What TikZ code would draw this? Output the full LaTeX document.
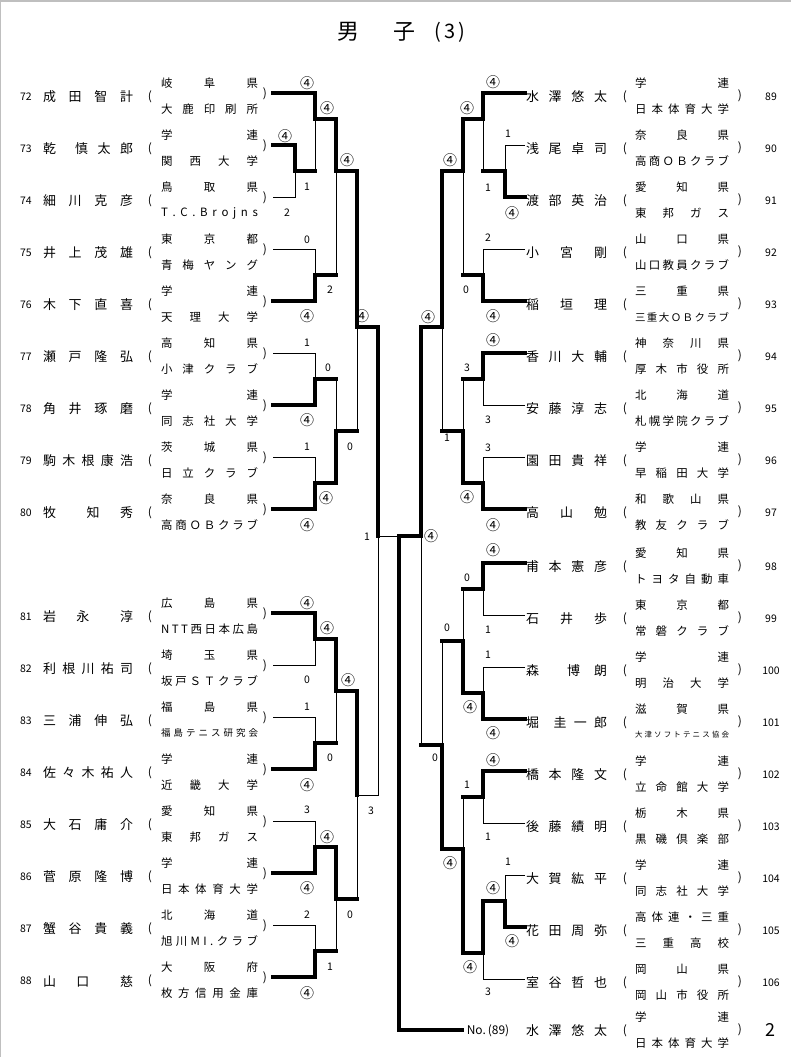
\documentclass[tikz,border=0pt]{standalone}
\usepackage{fontspec}
\setmainfont{Noto Sans CJK JP}
\makeatletter
\def\spr#1{\spr@a#1\@nil}
\def\spr@a#1#2\@nil{\ifx*#1\else#1\fi\if\relax\detokenize{#2}\relax\else\hfill\spr@a#2\@nil\fi}
\makeatother
\newcommand\four{{\fontsize{14}{14}\selectfont ④}}
\tikzset{
  win/.style={line width=3.6bp, line cap=rect, line join=miter},
  lose/.style={line width=1bp},
  numst/.style={inner sep=0, font=\fontsize{10.5}{10.5}\selectfont},
  namest/.style={inner sep=0, font=\fontsize{13}{13}\selectfont},
  clubst/.style={inner sep=0, font=\fontsize{11.5}{11.5}\selectfont},
  parst/.style={inner sep=0, font=\fontsize{12}{12}\selectfont},
  sc/.style={inner sep=0, font=\fontsize{10.5}{10.5}\selectfont},
}
% left row: [lower club size] number, y, name, pref, club
\newcommand\Lrow[6][11.5]{%
  \node[numst] (ln#2) at (26,#3+4) {#2};
  \node[namest] (lname#2) at (88,#3+4) {\makebox[90bp][s]{\spr{#4}}};
  \node[parst] (lpa#2) at (150,#3+4) {(};
  \node[clubst] (lpr#2) at (209.5,#3-10) {\makebox[97bp][s]{\spr{#5}}};
  \node[clubst, font=\fontsize{#1}{#1}\selectfont] (lcl#2) at (209.5,#3+16) {\makebox[97bp][s]{\spr{#6}}};
  \node[parst] (lpb#2) at (265,#3+1) {)};
  \coordinate (L#2) at (273,#3);
}
\newcommand\Rrow[6][11.5]{%
  \node[namest] (rname#2) at (566.5,#3+4) {\makebox[81bp][s]{\spr{#4}}};
  \node[parst] (rpa#2) at (625,#3+4) {(};
  \node[clubst] (rpr#2) at (682,#3-10) {\makebox[94bp][s]{\spr{#5}}};
  \node[clubst, font=\fontsize{#1}{#1}\selectfont] (rcl#2) at (682,#3+16) {\makebox[94bp][s]{\spr{#6}}};
  \node[parst] (rpb#2) at (740,#3+3) {)};
  \node[numst] (rn#2) at (771,#3+4) {#2};
  \coordinate (R#2) at (525,#3);
}
\begin{document}
\begin{tikzpicture}[x=1bp,y=-1bp]
\useasboundingbox (0,0) rectangle (791,1057);
\fill[white] (0,0) rectangle (791,1057);
\draw[black!25, line width=1.5bp] (0.75,1057) -- (0.75,0.75) -- (791,0.75);
% title
\node[inner sep=0, font=\fontsize{22}{22}\selectfont] (t1) at (348,32) {男};
\node[inner sep=0, font=\fontsize{22}{22}\selectfont] (t2) at (404,32) {子};
\node[inner sep=0, font=\fontsize{20}{20}\selectfont] (t3) at (450,32) {(\,3\,)};
% left rows
\Lrow{72}{93}{成田智計}{岐阜県}{大鹿印刷所}
\Lrow{73}{145}{乾*慎太郎}{学連}{関西大学}
\Lrow{74}{197}{細川克彦}{鳥取県}{T.C.Brojns}
\Lrow{75}{249}{井上茂雄}{東京都}{青梅ヤング}
\Lrow{76}{301}{木下直喜}{学連}{天理大学}
\Lrow{77}{353}{瀬戸隆弘}{高知県}{小津クラブ}
\Lrow{78}{405}{角井琢磨}{学連}{同志社大学}
\Lrow{79}{457}{駒木根康浩}{茨城県}{日立クラブ}
\Lrow{80}{509}{牧**知*秀}{奈良県}{高商ＯＢクラブ}
\Lrow{81}{613}{岩*永**淳}{広島県}{NTT西日本広島}
\Lrow{82}{665}{利根川祐司}{埼玉県}{坂戸ＳＴクラブ}
\Lrow[9.5]{83}{717}{三浦伸弘}{福島県}{福島テニス研究会}
\Lrow{84}{769}{佐々木祐人}{学連}{近畿大学}
\Lrow{85}{821}{大石庸介}{愛知県}{東邦ガス}
\Lrow{86}{873}{菅原隆博}{学連}{日本体育大学}
\Lrow{87}{925}{蟹谷貴義}{北海道}{旭川MI.クラブ}
\Lrow{88}{977}{山*口**慈}{大阪府}{枚方信用金庫}
% right rows
\Rrow{89}{93}{水澤悠太}{学連}{日本体育大学}
\Rrow{90}{145}{浅尾卓司}{奈良県}{高商ＯＢクラブ}
\Rrow{91}{197}{渡部英治}{愛知県}{東邦ガス}
\Rrow{92}{249}{小*宮*剛}{山口県}{山口教員クラブ}
\Rrow[10.5]{93}{301}{稲*垣*理}{三重県}{三重大ＯＢクラブ}
\Rrow{94}{353}{香川大輔}{神奈川県}{厚木市役所}
\Rrow{95}{405}{安藤淳志}{北海道}{札幌学院クラブ}
\Rrow{96}{457}{園田貴祥}{学連}{早稲田大学}
\Rrow{97}{509}{高*山*勉}{和歌山県}{教友クラブ}
\Rrow{98}{563}{甫本憲彦}{愛知県}{トヨタ自動車}
\Rrow{99}{615}{石*井*歩}{東京都}{常磐クラブ}
\Rrow{100}{667}{森*博朗}{学連}{明治大学}
\Rrow[7.5]{101}{719}{堀*圭一郎}{滋賀県}{大津ソフトテニス協会}
\Rrow{102}{771}{橋本隆文}{学連}{立命館大学}
\Rrow{103}{823}{後藤績明}{栃木県}{黒磯倶楽部}
\Rrow{104}{875}{大賀紘平}{学連}{同志社大学}
\Rrow{105}{927}{花田周弥}{高体連・三重}{三重高校}
\Rrow{106}{979}{室谷哲也}{岡山県}{岡山市役所}
% final row
\node[namest, font=\fontsize{12}{12}\selectfont] (fno) at (488,1031) {No.\,(89)};
\coordinate (fin) at (462,1030);
\node[namest] (fname) at (566.5,1031) {\makebox[81bp][s]{\spr{水澤悠太}}};
\node[parst] (fpa) at (625,1031) {(};
\node[clubst] (fpr) at (682,1017) {\makebox[94bp][s]{\spr{学連}}};
\node[clubst] (fcl) at (682,1043) {\makebox[94bp][s]{\spr{日本体育大学}}};
\node[parst] (fpb) at (740,1030) {)};
\node[inner sep=0, font=\fontsize{18}{18}\selectfont] (fpage) at (770,1030) {2};
% ---------- left bracket upper
\draw[win] (L72) -| (315,119) -| (336,171) -| (357,327) -| (378,536);
\draw[lose] (378,536) -- (399,536);
\draw[win] (L73) -| (295,171) -- (315,171);
\draw[lose] (315,171) -- (315,119);
\draw[lose] (L74) -| (295,171);
\draw[lose] (L75) -| (315,275);
\draw[win] (L76) -| (315,275) -- (336,275);
\draw[lose] (336,275) -- (336,171);
\draw[lose] (L77) -| (315,379);
\draw[win] (L78) -| (315,379) -- (336,379);
\draw[lose] (336,379) -- (336,431);
\draw[lose] (L79) -| (315,483);
\draw[win] (L80) -| (315,483) -| (336,431) -- (357,431);
\draw[lose] (357,431) -- (357,327);
% ---------- left bracket lower
\draw[win] (L81) -| (315,639) -| (336,691) -| (357,795);
\draw[lose] (357,795) -| (378,536);
\draw[lose] (L82) -| (315,639);
\draw[lose] (L83) -| (315,743);
\draw[win] (L84) -| (315,743) -- (336,743);
\draw[lose] (336,743) -- (336,691);
\draw[lose] (L85) -| (315,847);
\draw[win] (L86) -| (315,847) -| (336,899) -- (357,899);
\draw[lose] (357,899) -- (357,795);
\draw[lose] (L87) -| (315,951);
\draw[win] (L88) -| (315,951) -- (336,951);
\draw[lose] (336,951) -- (336,899);
% ---------- right bracket
\draw[win] (R89) -| (483,119) -| (463,171) -| (442,327) -| (421,536) -| (399,1030) -- (fin);
\draw[lose] (R90) -| (505,171);
\draw[win] (R91) -| (505,171) -- (483,171);
\draw[lose] (483,171) -- (483,119);
\draw[lose] (R92) -| (483,275);
\draw[win] (R93) -| (483,275) -- (463,275);
\draw[lose] (463,275) -- (463,171);
\draw[win] (R94) -| (483,379) -- (463,379);
\draw[lose] (463,379) -- (463,431);
\draw[lose] (R95) -| (483,379);
\draw[lose] (R96) -| (483,483);
\draw[win] (R97) -| (483,483) -| (463,431) -- (442,431);
\draw[lose] (442,431) -- (442,327);
\draw[win] (R98) -| (483,589) -- (463,589);
\draw[lose] (463,589) -- (463,641);
\draw[lose] (R99) -| (483,589);
\draw[lose] (R100) -| (483,693);
\draw[win] (R101) -| (483,693) -| (463,641) -- (442,641);
\draw[lose] (442,641) -- (442,745);
\draw[win] (R102) -| (483,797) -- (463,797);
\draw[lose] (463,797) -- (463,849);
\draw[lose] (R103) -| (483,797);
\draw[lose] (R104) -| (505,901);
\draw[win] (R105) -| (505,901) -| (483,953) -| (463,849) -| (442,745) -- (421,745);
\draw[lose] (421,745) -- (421,536);
\draw[lose] (R106) -| (483,953);
% ---------- scores left
\node[sc] (a1) at (307,83) {\four};
\node[sc] (a2) at (285,136) {\four};
\node[sc] (a3) at (287,213) {2};
\node[sc] (a4) at (307,187) {1};
\node[sc] (a5) at (307,240) {0};
\node[sc] (a6) at (307,316) {\four};
\node[sc] (a7) at (327,108) {\four};
\node[sc] (a8) at (330,290) {2};
\node[sc] (a9) at (347,160) {\four};
\node[sc] (a10) at (350,447) {0};
\node[sc] (a11) at (362,316) {\four};
\node[sc] (a12) at (371,811) {3};
\node[sc] (a13) at (367,537) {1};
\node[sc] (a14) at (307,343) {1};
\node[sc] (a15) at (307,420) {\four};
\node[sc] (a16) at (328,368) {0};
\node[sc] (a17) at (326,498) {\four};
\node[sc] (a18) at (307,447) {1};
\node[sc] (a19) at (307,525) {\four};
\node[sc] (a20) at (307,603) {\four};
\node[sc] (a21) at (307,680) {0};
\node[sc] (a22) at (327,628) {\four};
\node[sc] (a23) at (330,758) {0};
\node[sc] (a24) at (307,707) {1};
\node[sc] (a25) at (307,785) {\four};
\node[sc] (a26) at (348,680) {\four};
\node[sc] (a27) at (350,915) {0};
\node[sc] (a28) at (307,810) {3};
\node[sc] (a29) at (307,888) {\four};
\node[sc] (a30) at (327,837) {\four};
\node[sc] (a31) at (330,967) {1};
\node[sc] (a32) at (307,915) {2};
\node[sc] (a33) at (307,993) {\four};
% ---------- scores right
\node[sc] (b1) at (493,82) {\four};
\node[sc] (b2) at (488,188) {1};
\node[sc] (b3) at (508,134) {1};
\node[sc] (b4) at (512,213) {\four};
\node[sc] (b5) at (488,238) {2};
\node[sc] (b6) at (493,316) {\four};
\node[sc] (b7) at (467,108) {\four};
\node[sc] (b8) at (466,290) {0};
\node[sc] (b9) at (450,160) {\four};
\node[sc] (b10) at (447,438) {1};
\node[sc] (b11) at (428,317) {\four};
\node[sc] (b12) at (435,758) {0};
\node[sc] (b13) at (431,536) {\four};
\node[sc] (b14) at (493,340) {\four};
\node[sc] (b15) at (488,420) {3};
\node[sc] (b16) at (488,448) {3};
\node[sc] (b17) at (493,525) {\four};
\node[sc] (b18) at (467,368) {3};
\node[sc] (b19) at (467,497) {\four};
\node[sc] (b20) at (493,550) {\four};
\node[sc] (b21) at (488,630) {1};
\node[sc] (b22) at (488,655) {1};
\node[sc] (b23) at (493,733) {\four};
\node[sc] (b24) at (467,578) {0};
\node[sc] (b25) at (470,707) {\four};
\node[sc] (b26) at (447,628) {0};
\node[sc] (b27) at (450,863) {\four};
\node[sc] (b28) at (493,760) {\four};
\node[sc] (b29) at (488,837) {1};
\node[sc] (b30) at (467,785) {1};
\node[sc] (b31) at (470,967) {\four};
\node[sc] (b32) at (508,862) {1};
\node[sc] (b33) at (512,941) {\four};
\node[sc] (b34) at (493,888) {\four};
\node[sc] (b35) at (488,992) {3};
\end{tikzpicture}
\end{document}
